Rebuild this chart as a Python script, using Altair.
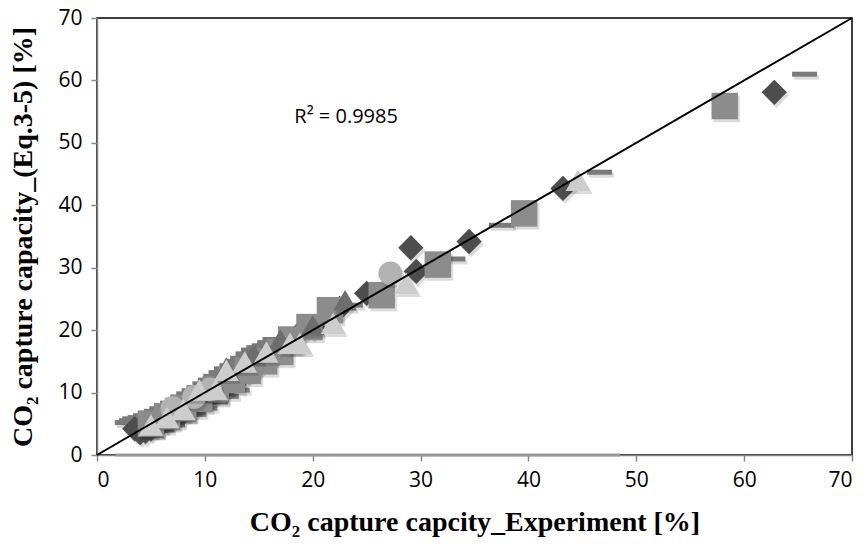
import altair as alt
import pandas as pd

# ---------------- data ----------------
diamond_x = [3.5, 4.0, 4.5, 5.0, 5.5, 6.0, 6.5, 7.0, 7.5, 8.0, 8.5, 9.0, 9.5, 10.3, 11.0, 11.8, 12.5, 13.3, 14.0, 14.8, 15.5, 16.3, 17.0, 18.5, 20.0, 22.5, 25.0, 29.6, 29.1, 34.5, 43.2, 62.8]
diamond_y = [4.2, 3.6, 3.8, 4.2, 4.8, 5.0, 5.5, 6.0, 6.5, 6.8, 7.3, 7.8, 8.5, 9.2, 10.0, 10.6, 11.5, 12.4, 13.5, 14.2, 15.5, 16.0, 17.0, 19.0, 20.5, 23.5, 25.9, 29.4, 33.2, 34.2, 42.7, 58.1]

dash_x = [2.8, 3.2, 3.5, 4.0, 4.5, 5.0, 5.5, 6.0, 6.5, 7.0, 7.5, 8.0, 8.5, 9.0, 9.5, 10.0, 10.5, 11.0, 11.5, 12.0, 12.5, 13.0, 13.5, 14.0, 14.5, 15.0, 15.5, 16.0, 16.5, 5.0, 6.0, 7.0, 8.0, 9.0, 10.0, 11.0, 12.0, 13.0, 20.5, 23.5, 33.0, 37.5, 46.6, 65.6]
dash_y = [5.2, 5.5, 5.8, 6.0, 6.3, 6.7, 7.0, 7.4, 7.8, 8.3, 8.8, 9.3, 9.8, 10.3, 10.8, 11.4, 12.0, 12.6, 13.2, 13.8, 14.3, 15.0, 15.5, 16.2, 16.8, 17.2, 17.5, 18.0, 18.5, 3.2, 4.0, 4.8, 5.8, 6.5, 7.5, 8.5, 9.4, 10.4, 21.5, 24.0, 31.4, 36.8, 45.3, 61.0]

square_x = [5.0, 6.5, 8.0, 9.5, 11.0, 12.5, 14.0, 15.5, 17.0, 18.0, 19.7, 21.6, 26.4, 31.6, 39.6, 58.2]
square_y = [5.0, 6.2, 7.5, 9.0, 10.5, 12.0, 13.5, 15.0, 16.5, 18.5, 20.5, 23.2, 25.6, 30.5, 38.7, 55.9]

dtri_x = [12.0, 14.5, 17.0, 20.0, 23.0]
dtri_y = [14.0, 16.2, 18.5, 20.8, 24.8]

circle_x = [7.0, 9.0, 10.5, 27.2]
circle_y = [7.5, 9.3, 10.5, 29.1]

ltri_x = [5.0, 6.5, 8.0, 9.5, 11.0, 12.0, 13.7, 15.7, 17.9, 18.8, 21.9, 28.7, 44.6]
ltri_y = [4.8, 6.0, 7.3, 10.4, 10.5, 13.6, 14.9, 16.5, 17.9, 17.9, 21.1, 27.5, 44.0]

line_x = [0, 70]
line_y = [0, 70]

base_x = [1.7, 48.5]
base_y = [0, 0]

r2_label = "R² = 0.9985"
r2_x = [23.1]
r2_y = [54.1]

ticks = [0, 10, 20, 30, 40, 50, 60, 70]

# ---------------- chart ----------------
X = alt.X("x:Q", scale=alt.Scale(domain=[0, 70], nice=False),
          axis=alt.Axis(values=ticks, title="CO₂ capture capcity_Experiment [%]"))
Y = alt.Y("y:Q", scale=alt.Scale(domain=[0, 70], nice=False),
          axis=alt.Axis(values=ticks, title="CO₂ capture capacity_(Eq.3-5) [%]"))

DASH = "M-1,-0.2H1V0.2H-1Z"

series = [
    (dash_x, dash_y, DASH, "#7a7a7a", 620),
    (diamond_x, diamond_y, "diamond", "#4d4d4d", 640),
    (square_x, square_y, "square", "#8c8c8c", 700),
    (dtri_x, dtri_y, "triangle-up", "#6e6e6e", 560),
    (circle_x, circle_y, "circle", "#b2b2b2", 570),
    (ltri_x, ltri_y, "triangle-up", "#cdcdcd", 620),
]

layers = []
base_df = pd.DataFrame({"x": base_x, "y": base_y})
layers.append(
    alt.Chart(base_df).mark_line(color="#9a9a9a", strokeWidth=3).encode(x=X, y=Y)
)
for xs, ys, shp, col, sz in series:
    df = pd.DataFrame({"x": xs, "y": ys})
    layers.append(
        alt.Chart(df).mark_point(shape=shp, filled=True, color="#000000", opacity=0.14,
                                 size=sz, xOffset=2, yOffset=3).encode(x=X, y=Y)
    )
    layers.append(
        alt.Chart(df).mark_point(shape=shp, filled=True, color=col, opacity=1,
                                 size=sz).encode(x=X, y=Y)
    )

line_df = pd.DataFrame({"x": line_x, "y": line_y})
layers.append(alt.Chart(line_df).mark_line(color="#000000", strokeWidth=2).encode(x=X, y=Y))

r2_df = pd.DataFrame({"x": r2_x, "y": r2_y, "t": [r2_label]})
layers.append(
    alt.Chart(r2_df).mark_text(font="Open Sans", fontSize=20, color="#000000",
                               align="center", baseline="middle").encode(x=X, y=Y, text="t:N")
)

chart = alt.layer(*layers).properties(
    width=755, height=437,
    autosize=alt.AutoSizeParams(type="none"),
    padding={"left": 97, "top": 18, "right": 16, "bottom": 89},
    background="#ffffff",
).configure_view(
    stroke="#000000", strokeWidth=1.5
).configure_axis(
    grid=False,
    domainColor="#868686", domainWidth=1.5,
    tickColor="#868686", tickWidth=1.5, tickSize=6,
    labelFont="Open Sans", labelFontSize=21, labelColor="#000000",
    titleFont="Liberation Serif", titleFontSize=28, titleFontWeight="bold", titleColor="#000000",
).configure_axisX(
    labelPadding=8, titlePadding=18,
).configure_axisY(
    labelPadding=9, titlePadding=20,
)

chart.save("out.html", embed_options={"renderer": "svg", "actions": False})
